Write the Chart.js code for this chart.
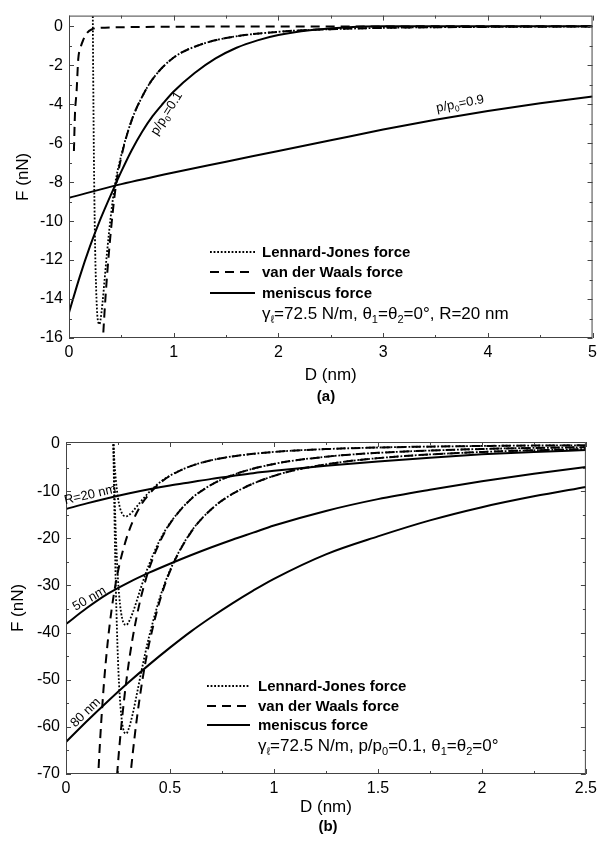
<!DOCTYPE html>
<html>
<head>
<meta charset="utf-8">
<script src="https://cdn.jsdelivr.net/npm/chart.js@4.4.0/dist/chart.umd.min.js"></script>
<style>
  body { margin: 0; background: #fff; width: 602px; height: 846px; position: relative; overflow: hidden; }
  canvas { position: absolute; left: 0; }
  #chartA { top: 0; }
  #chartB { top: 415px; }
</style>
</head>
<body>
<canvas id="chartA" width="602" height="410"></canvas>
<canvas id="chartB" width="602" height="431"></canvas>
<script>
const FONT = "'Liberation Sans', Arial, Helvetica, sans-serif";

// ---------- (a) R = 20 nm, p/p0 = 0.1 and 0.9 ----------
const xTicksA = [0, 1, 2, 3, 4, 5];
const yTicksA = [0, -2, -4, -6, -8, -10, -12, -14, -16];

// Lennard-Jones force
const ljD_A = [0.21, 0.22, 0.228, 0.235, 0.24, 0.25, 0.26, 0.27, 0.28, 0.29, 0.30, 0.32, 0.34, 0.36, 0.38, 0.40, 0.44, 0.5, 0.6, 0.7, 0.8, 1.0, 1.25, 1.5, 2.0, 2.5, 3, 4, 5];
const ljF_A = [24, 8.3, 0, -5.1, -7.8, -11.5, -13.6, -14.8, -15.2, -15.3, -15.1, -14.2, -13.0, -11.8, -10.7, -9.7, -8.1, -6.6, -4.8, -3.6, -2.7, -1.6, -0.95, -0.6, -0.28, -0.15, -0.08, -0.03, -0.01];

// van der Waals force (two dashed branches)
const vdwLeftD_A = [0.047, 0.057, 0.073, 0.088, 0.11, 0.136, 0.17, 0.22, 0.3, 0.6, 1, 5];
const vdwLeftF_A = [-6.4, -4.5, -3.3, -1.7, -1.1, -0.7, -0.35, -0.15, -0.08, -0.04, -0.02, 0];
const vdwD_A = [0.30, 0.325, 0.35, 0.38, 0.40, 0.44, 0.5, 0.6, 0.7, 0.8, 1.0, 1.25, 1.5, 2.0, 2.5, 3, 4, 5];
const vdwF_A = [-18.8, -16, -13.8, -11.7, -10.5, -8.5, -6.7, -4.8, -3.6, -2.7, -1.6, -0.95, -0.6, -0.28, -0.15, -0.08, -0.03, -0.01];

// meniscus force
const men01D_A = [0, 0.1, 0.2, 0.3, 0.437, 0.5, 0.6, 0.7, 0.8, 0.9, 1.0, 1.2, 1.4, 1.6, 1.8, 2.0, 2.3, 2.6, 3, 4, 5];
const men01F_A = [-14.7, -12.9, -11.3, -9.9, -8.2, -7.45, -6.35, -5.4, -4.6, -3.95, -3.35, -2.4, -1.65, -1.1, -0.72, -0.45, -0.2, -0.07, 0, 0, 0];
const men09D_A = [0, 0.5, 1, 1.5, 2, 2.5, 3, 3.5, 4, 4.5, 5];
const men09F_A = [-8.8, -8.1, -7.5, -6.95, -6.4, -5.85, -5.3, -4.8, -4.35, -3.95, -3.6];

// ---------- (b) p/p0 = 0.1, R = 20, 50, 80 nm ----------
const xTicksB = [0, 0.5, 1, 1.5, 2, 2.5];
const yTicksB = [0, -10, -20, -30, -40, -50, -60, -70];

const ljD_B = [0.21, 0.22, 0.228, 0.235, 0.24, 0.25, 0.26, 0.27, 0.28, 0.29, 0.30, 0.32, 0.34, 0.36, 0.38, 0.40, 0.45, 0.5, 0.6, 0.7, 0.8, 1.0, 1.25, 1.5, 2.0, 2.5];
const lj20F_B = [24.4, 8.35, 0, -5.08, -7.77, -11.48, -13.63, -14.78, -15.27, -15.35, -15.16, -14.35, -13.29, -12.2, -11.16, -10.2, -8.2, -6.7, -4.68, -3.44, -2.64, -1.69, -1.08, -0.75, -0.42, -0.27];
const lj50F_B = [61, 20.9, 0, -12.7, -19.5, -28.7, -34.1, -37.0, -38.2, -38.4, -37.9, -35.9, -33.3, -30.5, -27.9, -25.5, -20.5, -16.8, -11.7, -8.62, -6.61, -4.23, -2.71, -1.88, -1.06, -0.68];
const lj80F_B = [97.7, 33.4, 0, -20.3, -31.1, -45.9, -54.5, -59.1, -61.1, -61.4, -60.6, -57.4, -53.2, -48.8, -44.6, -40.8, -32.8, -26.8, -18.7, -13.8, -10.6, -6.76, -4.33, -3.0, -1.69, -1.08];

const vdw20D_B = [0.15, 0.16, 0.18, 0.2, 0.22, 0.24, 0.26, 0.28, 0.30, 0.32, 0.34, 0.36, 0.38, 0.4, 0.45, 0.5, 0.6, 0.7, 0.8, 1.0, 1.25, 1.5, 2.0, 2.5];
const vdw20F_B = [-75.1, -66.0, -52.2, -42.3, -34.9, -29.3, -25.0, -21.6, -18.8, -16.5, -14.6, -13.0, -11.7, -10.6, -8.35, -6.76, -4.69, -3.45, -2.64, -1.69, -1.08, -0.75, -0.42, -0.27];
const vdw50D_B = [0.24, 0.25, 0.26, 0.28, 0.30, 0.32, 0.34, 0.36, 0.38, 0.40, 0.45, 0.5, 0.6, 0.7, 0.8, 1.0, 1.25, 1.5, 2.0, 2.5];
const vdw50F_B = [-73.4, -67.7, -62.6, -54.0, -47.0, -41.3, -36.6, -32.6, -29.3, -26.4, -20.9, -16.9, -11.75, -8.63, -6.61, -4.23, -2.71, -1.88, -1.06, -0.68];
const vdw80D_B = [0.30, 0.31, 0.32, 0.34, 0.36, 0.38, 0.40, 0.45, 0.5, 0.6, 0.7, 0.8, 1.0, 1.25, 1.5, 2.0, 2.5];
const vdw80F_B = [-75.1, -70.3, -66.0, -58.5, -52.2, -46.8, -42.3, -33.4, -27.0, -18.8, -13.8, -10.6, -6.76, -4.33, -3.0, -1.69, -1.08];

const menD_B = [0, 0.1, 0.2, 0.3, 0.4, 0.5, 0.6, 0.7, 0.8, 0.9, 1.0, 1.25, 1.5, 1.75, 2.0, 2.25, 2.5];
const men20F_B = [-13.8, -12.6, -11.5, -10.5, -9.6, -8.8, -8.1, -7.4, -6.8, -6.2, -5.7, -4.6, -3.7, -2.9, -2.2, -1.7, -1.3];
const men50F_B = [-38.2, -34.8, -31.8, -29.4, -27.3, -25.4, -23.6, -21.9, -20.3, -18.8, -17.3, -14.2, -11.7, -9.7, -7.9, -6.3, -4.9];
const men80F_B = [-63.2, -58.8, -54.6, -50.6, -46.8, -43.2, -39.8, -36.7, -33.8, -31.1, -28.6, -23.4, -19.6, -16.2, -13.4, -11.1, -9.1];

// line styles
const DOTTED = [1.8, 1.8];
const DASHED = [9, 6];

function pts(xs, ys) {
    return xs.map((x, i) => ({ x: x, y: ys[i] }));
}

function line(xs, ys, dash, width) {
    return {
        data: pts(xs, ys),
        borderColor: '#000',
        borderWidth: width,
        borderDash: dash,
        pointRadius: 0,
        fill: false,
        cubicInterpolationMode: 'monotone'
    };
}

// text with subscripts: runs = [[text, isSub], ...]
function runsWidth(ctx, runs, size) {
    let w = 0;
    runs.forEach(([t, sub]) => {
        ctx.font = (sub ? size * 0.65 : size) + 'px ' + FONT;
        w += ctx.measureText(t).width;
    });
    return w;
}

function drawRuns(ctx, runs, x, y, size, bold) {
    runs.forEach(([t, sub]) => {
        ctx.font = (bold && !sub ? 'bold ' : '') + (sub ? size * 0.65 : size) + 'px ' + FONT;
        ctx.fillText(t, x, sub ? y + size * 0.25 : y);
        x += ctx.measureText(t).width;
    });
}

// box, inward ticks, legend and labels
const decor = {
    id: 'decor',
    afterDatasetsDraw(chart, args, o) {
        const ctx = chart.ctx;
        const a = chart.chartArea;
        const xs = chart.scales.x, ys = chart.scales.y;
        ctx.save();
        ctx.strokeStyle = '#444';
        ctx.lineWidth = 1;
        ctx.setLineDash([]);
        ctx.strokeRect(a.left + 0.5, a.top + 0.5, a.right - a.left - 1, a.bottom - a.top - 1);

        const xt = o.xTicks, yt = o.yTicks;
        const xMarks = [], yMarks = [];
        xt.forEach((v, i) => {
            xMarks.push([v, 5]);
            if (i < xt.length - 1) xMarks.push([(v + xt[i + 1]) / 2, 3]);
        });
        yt.forEach((v, i) => {
            yMarks.push([v, 5]);
            if (i < yt.length - 1) yMarks.push([(v + yt[i + 1]) / 2, 3]);
        });
        ctx.beginPath();
        xMarks.forEach(([v, len]) => {
            const px = Math.round(xs.getPixelForValue(v)) + 0.5;
            ctx.moveTo(px, a.bottom); ctx.lineTo(px, a.bottom - len);
            ctx.moveTo(px, a.top); ctx.lineTo(px, a.top + len);
        });
        yMarks.forEach(([v, len]) => {
            const py = Math.round(ys.getPixelForValue(v)) + 0.5;
            ctx.moveTo(a.left, py); ctx.lineTo(a.left + len, py);
            ctx.moveTo(a.right, py); ctx.lineTo(a.right - len, py);
        });
        ctx.stroke();

        // legend
        const lg = o.legend;
        ctx.fillStyle = '#000';
        ctx.strokeStyle = '#000';
        ctx.textBaseline = 'alphabetic';
        ctx.textAlign = 'left';
        lg.items.forEach((it, i) => {
            const y = lg.rows[i];
            ctx.lineWidth = it.width;
            ctx.setLineDash(it.dash);
            ctx.beginPath();
            ctx.moveTo(lg.x0, y);
            ctx.lineTo(lg.x1, y);
            ctx.stroke();
            ctx.font = 'bold 15px ' + FONT;
            ctx.fillText(it.text, lg.tx, y + 5);
        });
        ctx.setLineDash([]);
        drawRuns(ctx, lg.note, lg.tx, lg.noteY + 6, 17, false);

        // labels along the curves
        o.labels.forEach(lb => {
            ctx.save();
            ctx.translate(lb.x, lb.y);
            ctx.rotate(lb.angle * Math.PI / 180);
            const w = runsWidth(ctx, lb.runs, 13);
            drawRuns(ctx, lb.runs, -w / 2, 4.5, 13, false);
            ctx.restore();
        });

        // panel caption
        ctx.font = 'bold 15px ' + FONT;
        ctx.textAlign = 'center';
        ctx.textBaseline = 'middle';
        ctx.fillText(o.caption.text, o.caption.x, o.caption.y);
        ctx.restore();
    }
};

function axes(xMin, xMax, xTicks, yMin, yMax, yTicks, xH, yW, yTitlePad) {
    return {
        x: {
            type: 'linear', min: xMin, max: xMax,
            afterBuildTicks: s => { s.ticks = xTicks.map(v => ({ value: v })); },
            afterFit: s => { s.height = xH; },
            grid: { display: false, drawTicks: false },
            border: { display: false },
            ticks: { padding: 5, color: '#000', autoSkip: false, maxRotation: 0,
                     font: { family: FONT, size: 16 }, callback: v => String(v) },
            title: { display: true, text: 'D (nm)', color: '#000',
                     font: { family: FONT, size: 17 }, padding: { top: 0, bottom: 0 } }
        },
        y: {
            type: 'linear', min: yMin, max: yMax,
            afterBuildTicks: s => { s.ticks = yTicks.map(v => ({ value: v })); },
            afterFit: s => { s.width = yW; },
            grid: { display: false, drawTicks: false },
            border: { display: false },
            ticks: { padding: 6, color: '#000', autoSkip: false,
                     font: { family: FONT, size: 16 }, callback: v => String(v) },
            title: { display: true, text: 'F (nN)', color: '#000',
                     font: { family: FONT, size: 17 }, padding: { top: yTitlePad, bottom: 0 } }
        }
    };
}

const legendItems = [
    { text: 'Lennard-Jones force', dash: DOTTED, width: 1.8 },
    { text: 'van der Waals force', dash: DASHED, width: 2 },
    { text: 'meniscus force', dash: [], width: 2 }
];

// chart (a)
new Chart(document.getElementById('chartA'), {
    type: 'line',
    data: {
        datasets: [
            line(men01D_A, men01F_A, [], 2),
            line(men09D_A, men09F_A, [], 2),
            line(vdwLeftD_A, vdwLeftF_A, DASHED, 2),
            line(vdwD_A, vdwF_A, DASHED, 2),
            line(ljD_A, ljF_A, DOTTED, 1.8)
        ]
    },
    options: {
        responsive: false,
        animation: false,
        layout: { padding: { left: 0, right: 7, top: 9, bottom: 24 } },
        scales: axes(0, 5, xTicksA, -16, 0.55, yTicksA, 48, 69, 13),
        plugins: {
            legend: { display: false },
            tooltip: { enabled: false },
            decor: {
                xTicks: xTicksA, yTicks: yTicksA,
                legend: {
                    x0: 210, x1: 255, tx: 262, rows: [252, 272, 293], noteY: 313, items: legendItems,
                    note: [['γ', false], ['ℓ', true], ['=72.5 N/m, θ', false], ['1', true], ['=θ', false], ['2', true], ['=0°, R=20 nm', false]]
                },
                labels: [
                    { x: 166, y: 113, angle: -58, runs: [['p/p', false], ['0', true], ['=0.1', false]] },
                    { x: 460, y: 103, angle: -11, runs: [['p/p', false], ['0', true], ['=0.9', false]] }
                ],
                caption: { text: '(a)', x: 326, y: 397 }
            }
        }
    },
    plugins: [decor]
});

// chart (b)
new Chart(document.getElementById('chartB'), {
    type: 'line',
    data: {
        datasets: [
            line(menD_B, men20F_B, [], 2),
            line(menD_B, men50F_B, [], 2),
            line(menD_B, men80F_B, [], 2),
            line(vdw20D_B, vdw20F_B, DASHED, 2),
            line(vdw50D_B, vdw50F_B, DASHED, 2),
            line(vdw80D_B, vdw80F_B, DASHED, 2),
            line(ljD_B, lj20F_B, DOTTED, 1.8),
            line(ljD_B, lj50F_B, DOTTED, 1.8),
            line(ljD_B, lj80F_B, DOTTED, 1.8)
        ]
    },
    options: {
        responsive: false,
        animation: false,
        layout: { padding: { left: 0, right: 9, top: 27, bottom: 28 } },
        scales: axes(0, 2.5, xTicksB, -70, 0.42, yTicksB, 44, 66, 8),
        plugins: {
            legend: { display: false },
            tooltip: { enabled: false },
            decor: {
                xTicks: xTicksB, yTicks: yTicksB,
                legend: {
                    x0: 207, x1: 250, tx: 258, rows: [271, 291, 310], noteY: 330, items: legendItems,
                    note: [['γ', false], ['ℓ', true], ['=72.5 N/m, p/p', false], ['0', true], ['=0.1, θ', false], ['1', true], ['=θ', false], ['2', true], ['=0°', false]]
                },
                labels: [
                    { x: 90, y: 79, angle: -13, runs: [['R=20 nm', false]] },
                    { x: 89, y: 183, angle: -30, runs: [['50 nm', false]] },
                    { x: 85, y: 297, angle: -44, runs: [['80 nm', false]] }
                ],
                caption: { text: '(b)', x: 328, y: 412 }
            }
        }
    },
    plugins: [decor]
});
</script>
</body>
</html>
